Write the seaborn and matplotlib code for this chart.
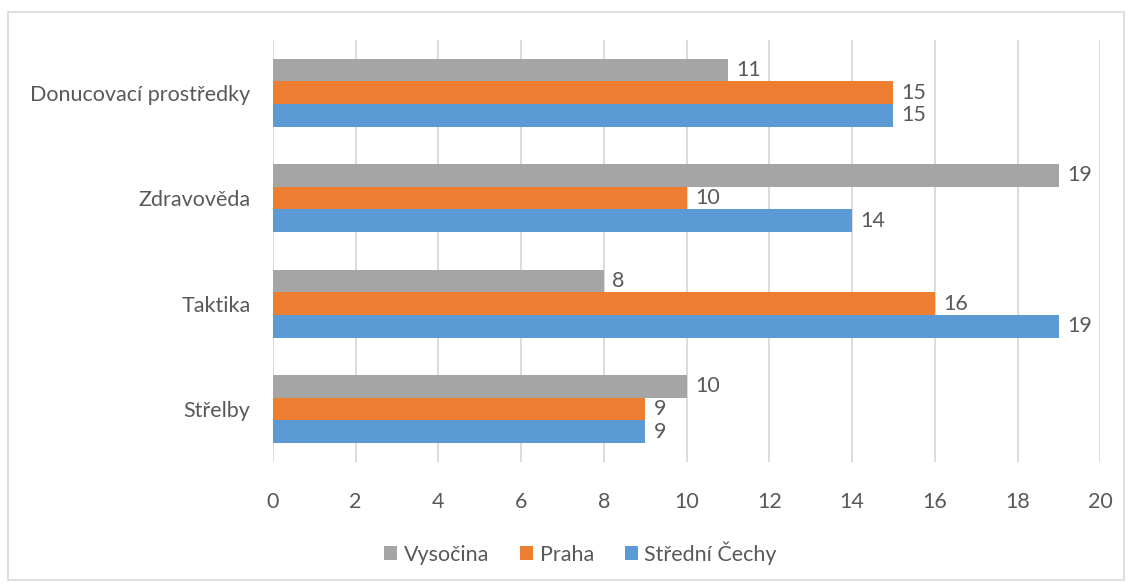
import pandas as pd
import seaborn as sns
import matplotlib.pyplot as plt
from matplotlib.patches import Rectangle

# data
kategorie = ["Donucovací prostředky", "Zdravověda", "Taktika", "Střelby"]
vysocina = [11, 19, 8, 10]
praha = [15, 10, 16, 9]
stredni_cechy = [15, 14, 19, 9]
kraje = ["Vysočina", "Praha", "Střední Čechy"]
barvy = ["#A5A5A5", "#ED7D31", "#5B9BD5"]

df = pd.DataFrame({
    "Kategorie": kategorie * 3,
    "Kraj": [kraje[0]] * 4 + [kraje[1]] * 4 + [kraje[2]] * 4,
    "Počet": vysocina + praha + stredni_cechy,
})

sns.set_theme(style="white")
plt.rcParams["font.family"] = ["Lato", "DejaVu Sans"]
text_col = "#595959"
fs = 15.5

fig = plt.figure(figsize=(11.32, 5.86), dpi=100)
ax = fig.add_axes([0.241, 0.212, 0.731, 0.72])

sns.barplot(data=df, y="Kategorie", x="Počet", hue="Kraj",
            order=kategorie, hue_order=kraje, palette=barvy,
            orient="h", width=0.645, saturation=1, ax=ax,
            edgecolor="none")

for c in ax.containers:
    ax.bar_label(c, padding=6, fontsize=fs, color=text_col)

ax.set_xlim(0, 20)
ax.set_xticks(range(0, 21, 2))
ax.grid(axis="x", color="#D9D9D9", linewidth=1.3)
ax.set_axisbelow(True)
for s in ax.spines.values():
    s.set_visible(False)
ax.set_xlabel("")
ax.set_ylabel("")
ax.tick_params(axis="both", length=0, labelsize=fs, labelcolor=text_col)
ax.tick_params(axis="x", pad=22)
ax.tick_params(axis="y", pad=16)

ax.legend(loc="upper center", bbox_to_anchor=(0.372, -0.142), ncol=3,
          frameon=False, fontsize=fs, labelcolor=text_col,
          handlelength=0.6, handleheight=0.6, handletextpad=0.3,
          columnspacing=1.45)

fig.patches.append(Rectangle((8 / 1132, 6 / 586), 1116 / 1132, 568 / 586,
                             transform=fig.transFigure, fill=False,
                             edgecolor="#D9D9D9", linewidth=1.2))

fig.savefig("out.png", dpi=100)
